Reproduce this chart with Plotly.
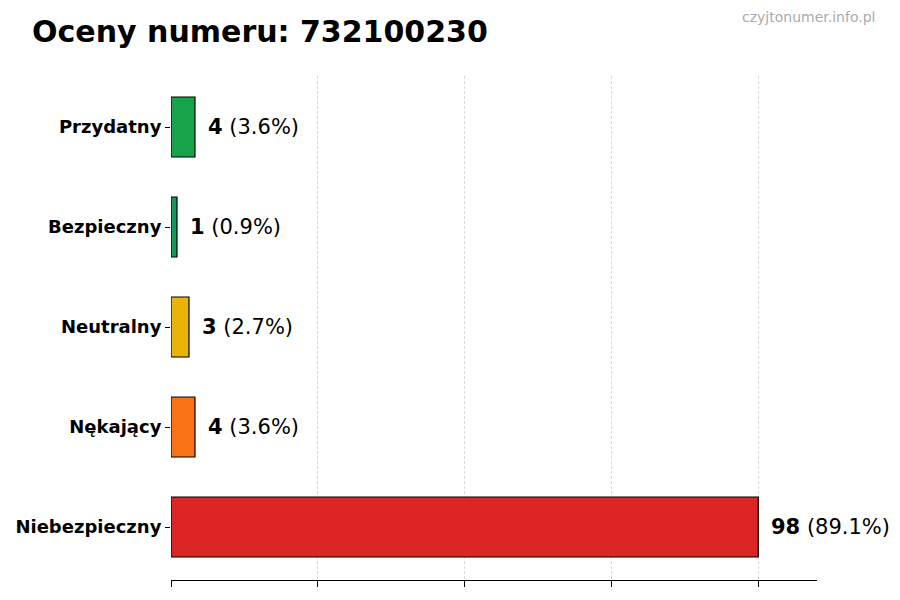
import plotly.graph_objects as go

numer = "732100230"
kategorie = ["Niebezpieczny", "Nękający", "Neutralny", "Bezpieczny", "Przydatny"]
liczby = [98, 4, 3, 1, 4]
kolory = ["#dc2626", "#f97316", "#eab308", "#159957", "#16a34a"]

suma = sum(liczby)
maks = max(liczby)

fig = go.Figure()
fig.add_trace(go.Bar(
    x=liczby,
    y=kategorie,
    orientation="h",
    width=0.6,
    marker=dict(color=kolory, line=dict(color="black", width=1.2)),
    hoverinfo="skip",
))

# etykiety: liczba pogrubiona + procent
for kat, n in zip(kategorie, liczby):
    proc = n / suma * 100
    fig.add_annotation(
        x=n, y=kat, xref="x", yref="y",
        text="<b>%d</b> (%.1f%%)" % (n, proc),
        showarrow=False, xanchor="left", xshift=11,
        font=dict(family="DejaVu Sans", size=21, color="black"),
    )

fig.add_annotation(
    x=1.0925, y=1.117, xref="paper", yref="paper",
    xanchor="right", yanchor="middle",
    text="czyjtonumer.info.pl", showarrow=False,
    font=dict(family="DejaVu Sans", size=14, color="#aaaaaa"),
)

# strona ma 8px marginesu body, stad 892x592
fig.update_layout(
    width=892, height=592,
    margin=dict(l=163, r=83, t=68, b=20),
    paper_bgcolor="white", plot_bgcolor="white",
    showlegend=False,
    title=dict(
        text="<b>Oceny numeru: %s</b>" % numer,
        x=0.027, xanchor="left", y=0.96, yanchor="middle",
        font=dict(family="DejaVu Sans", size=30, color="black"),
    ),
    font=dict(family="DejaVu Sans", color="black"),
)

fig.update_xaxes(
    range=[0, maks * 1.1],
    tickvals=[maks * i / 4 for i in range(5)],
    showticklabels=False,
    ticks="outside", ticklen=6, tickcolor="black",
    showline=True, linecolor="black", linewidth=1.2,
    showgrid=True, gridcolor="#d9d9d9", griddash="3px,2px", gridwidth=1,
    zeroline=False, automargin=False,
)
fig.update_yaxes(
    range=[-0.53, 4.51],
    tickvals=kategorie,
    ticktext=["<b>%s</b>" % k for k in kategorie],
    tickfont=dict(family="DejaVu Sans", size=18, color="black"),
    ticks="outside", ticklen=5, tickcolor="black",
    showline=False, showgrid=False, zeroline=False, automargin=False,
)

fig.write_html("out.html")
